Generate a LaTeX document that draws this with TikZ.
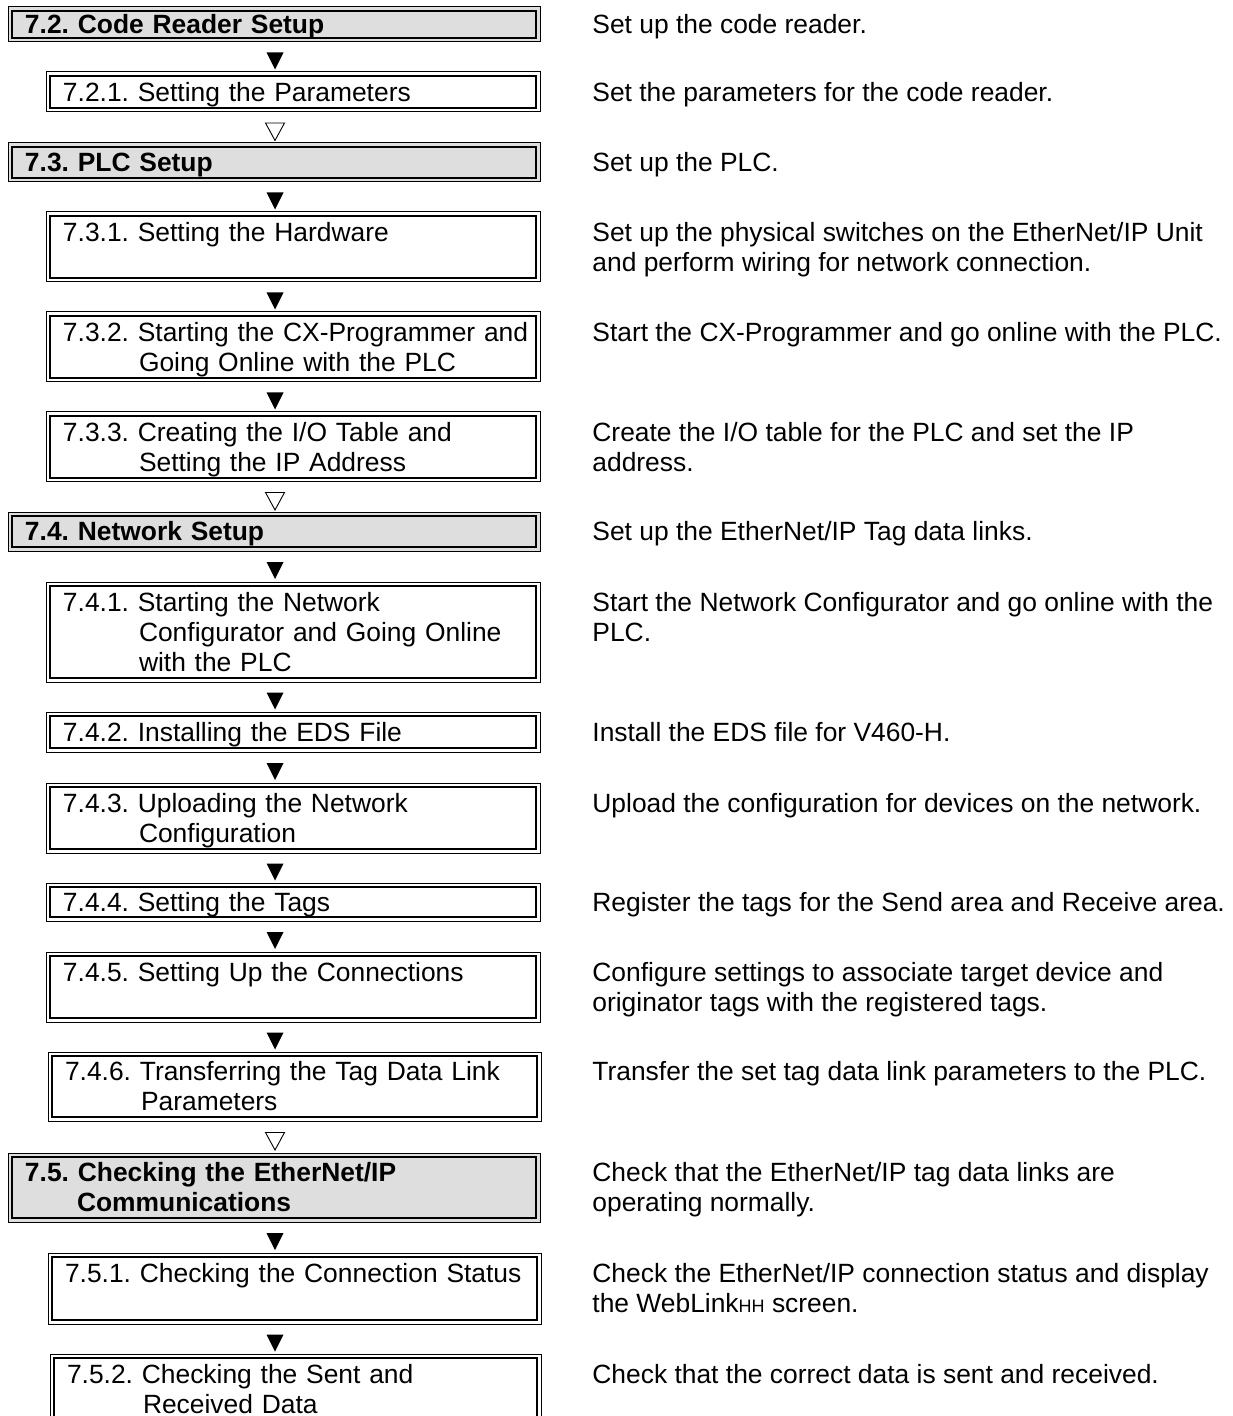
\documentclass[tikz,border=0pt]{standalone}
\usepackage{fontspec}
\setmainfont{Liberation Sans}
\frenchspacing
\definecolor{boxgray}{RGB}{222,222,222}
\newcommand{\lnst}{\rule[-2.8pt]{0pt}{15pt}}
\newcommand{\bxa}{\lnst\hspace*{8.5pt}}
\newcommand{\bxb}{\lnst\hspace*{46.5pt}}
\newcommand{\bxc}{\lnst\hspace*{34.5pt}}
\newcommand{\smhh}{{\fontsize{9}{15}\selectfont HH}}
\begin{document}
\begin{tikzpicture}[x=0.5pt,y=-0.5pt,
  font=\fontsize{13.2}{15}\selectfont,
  dbl/.style={draw, line width=0.5pt, outer sep=0pt, inner xsep=0pt, inner ysep=0pt,
    path picture={\draw[line width=1.2pt]
      ([shift={(2pt,-2pt)}]path picture bounding box.north west) rectangle
      ([shift={(-2pt,2pt)}]path picture bounding box.south east);}},
  mainbox/.style={dbl, fill=boxgray, text width=266pt, align=left, font=\fontsize{13.2}{15}\selectfont\bfseries, anchor=north west},
  subbox/.style={dbl, fill=white, text width=247pt, align=left, anchor=north west},
  desc/.style={anchor=west, align=left, inner xsep=0pt, inner ysep=0pt},
  dn/.pic={\fill (-8.5,-4.5) -- (8.5,-4.5) -- (0,12.5) -- cycle;},
  op/.pic={\draw[line width=0.45pt, line join=miter] (-9.5,-4.5) -- (9.5,-4.5) -- (0,13) -- cycle;}
]
\useasboundingbox (0,0) rectangle (1232,1416);
\clip (0,0) rectangle (1232,1416);
\fill[white] (0,0) rectangle (1232,1416);
\coordinate (xr) at (592,0);
\coordinate (xt) at (275,0);

% boxes
\node[mainbox, minimum height=17.5pt] (m72) at (8,7) {\bxa 7.2. Code Reader Setup};
\node[subbox, minimum height=20pt] (s721) at (46,72) {\bxa 7.2.1. Setting the Parameters};
\node[mainbox, minimum height=19.5pt] (m73) at (8,143) {\bxa 7.3. PLC Setup};
\node[subbox, minimum height=35pt] (s731) at (46,212) {\bxa 7.3.1. Setting the Hardware\\\lnst};
\node[subbox, minimum height=35pt] (s732) at (46,312) {\bxa 7.3.2. Starting the CX-Programmer and\\\bxb Going Online with the PLC};
\node[subbox, minimum height=35pt] (s733) at (46,412) {\bxa 7.3.3. Creating the I/O Table and\\\bxb Setting the IP Address};
\node[mainbox, minimum height=19.5pt] (m74) at (8,512) {\bxa 7.4. Network Setup};
\node[subbox, minimum height=50pt] (s741) at (46,582) {\bxa 7.4.1. Starting the Network\\\bxb Configurator and Going Online\\\bxb with the PLC};
\node[subbox, minimum height=20pt] (s742) at (46,712) {\bxa 7.4.2. Installing the EDS File};
\node[subbox, minimum height=35pt] (s743) at (46,783) {\bxa 7.4.3. Uploading the Network\\\bxb Configuration};
\node[subbox, minimum height=19pt] (s744) at (46,883) {\bxa 7.4.4. Setting the Tags};
\node[subbox, minimum height=35pt] (s745) at (46,952) {\bxa 7.4.5. Setting Up the Connections\\\lnst};
\node[subbox, minimum height=34.5pt, text width=246.5pt] (s746) at (48,1052) {\bxa 7.4.6. Transferring the Tag Data Link\\\bxb Parameters};
\node[mainbox, minimum height=34.5pt] (m75) at (8,1153) {\bxa 7.5. Checking the EtherNet/IP\\\bxc Communications};
\node[subbox, minimum height=35.5pt, text width=246.5pt] (s751) at (48,1253) {\bxa 7.5.1. Checking the Connection Status\\\lnst};
\node[subbox, minimum height=35pt, text width=245.5pt] (s752) at (50,1354) {\bxa 7.5.2. Checking the Sent and\\\bxb Received Data};

% descriptions
\node[desc] (d72) at (m72.center -| xr) {\lnst Set up the code reader.};
\node[desc] (d721) at (s721.center -| xr) {\lnst Set the parameters for the code reader.};
\node[desc] (d73) at (m73.center -| xr) {\lnst Set up the PLC.};
\node[desc] (d731) at (s731.center -| xr) {\lnst Set up the physical switches on the EtherNet/IP Unit\\\lnst and perform wiring for network connection.};
\node[desc] (d732) at (s732.center -| xr) {\lnst Start the CX-Programmer and go online with the PLC.\\\lnst};
\node[desc] (d733) at (s733.center -| xr) {\lnst Create the I/O table for the PLC and set the IP\\\lnst address.};
\node[desc] (d74) at (m74.center -| xr) {\lnst Set up the EtherNet/IP Tag data links.};
\node[desc] (d741) at (s741.center -| xr) {\lnst Start the Network Configurator and go online with the\\\lnst PLC.\\\lnst};
\node[desc] (d742) at (s742.center -| xr) {\lnst Install the EDS file for V460-H.};
\node[desc] (d743) at (s743.center -| xr) {\lnst Upload the configuration for devices on the network.\\\lnst};
\node[desc] (d744) at (s744.center -| xr) {\lnst Register the tags for the Send area and Receive area.};
\node[desc] (d745) at (s745.center -| xr) {\lnst Configure settings to associate target device and\\\lnst originator tags with the registered tags.};
\node[desc] (d746) at (s746.center -| xr) {\lnst Transfer the set tag data link parameters to the PLC.\\\lnst};
\node[desc] (d75) at (m75.center -| xr) {\lnst Check that the EtherNet/IP tag data links are\\\lnst operating normally.};
\node[desc] (d751) at (s751.center -| xr) {\lnst Check the EtherNet/IP connection status and display\\\lnst the WebLink\smhh{} screen.};
\node[desc] (d752) at (s752.center -| xr) {\lnst Check that the correct data is sent and received.\\\lnst};

% flow marks
\path (m72.south) -- (s721.north) coordinate[midway] (g1);
\pic at (g1 -| xt) {dn};
\path (s721.south) -- (m73.north) coordinate[midway] (g2);
\pic at (g2 -| xt) {op};
\path (m73.south) -- (s731.north) coordinate[midway] (g3);
\pic at (g3 -| xt) {dn};
\path (s731.south) -- (s732.north) coordinate[midway] (g4);
\pic at (g4 -| xt) {dn};
\path (s732.south) -- (s733.north) coordinate[midway] (g5);
\pic at (g5 -| xt) {dn};
\path (s733.south) -- (m74.north) coordinate[midway] (g6);
\pic at (g6 -| xt) {op};
\path (m74.south) -- (s741.north) coordinate[midway] (g7);
\pic at (g7 -| xt) {dn};
\path (s741.south) -- (s742.north) coordinate[midway] (g8);
\pic at (g8 -| xt) {dn};
\path (s742.south) -- (s743.north) coordinate[midway] (g9);
\pic at (g9 -| xt) {dn};
\path (s743.south) -- (s744.north) coordinate[midway] (g10);
\pic at (g10 -| xt) {dn};
\path (s744.south) -- (s745.north) coordinate[midway] (g11);
\pic at (g11 -| xt) {dn};
\path (s745.south) -- (s746.north) coordinate[midway] (g12);
\pic at (g12 -| xt) {dn};
\path (s746.south) -- (m75.north) coordinate[midway] (g13);
\pic at (g13 -| xt) {op};
\path (m75.south) -- (s751.north) coordinate[midway] (g14);
\pic at (g14 -| xt) {dn};
\path (s751.south) -- (s752.north) coordinate[midway] (g15);
\pic at (g15 -| xt) {dn};
\end{tikzpicture}
\end{document}
